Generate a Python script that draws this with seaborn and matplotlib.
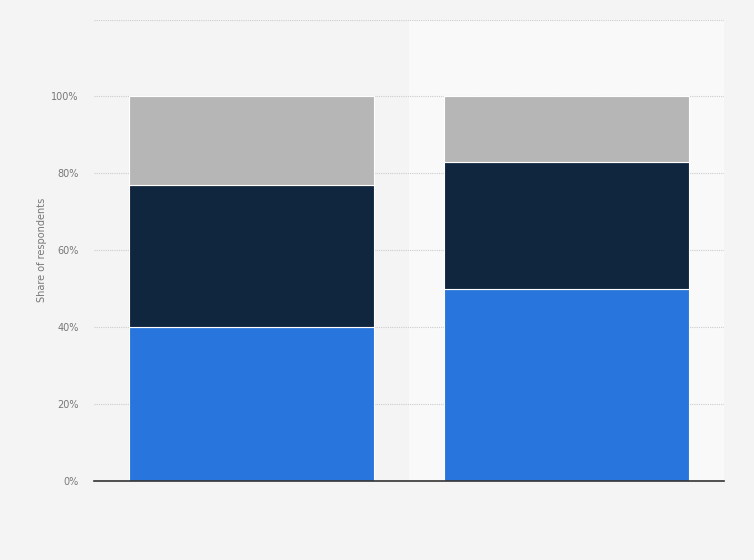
import matplotlib
matplotlib.use("Agg")
import matplotlib.pyplot as plt
import seaborn as sns
import numpy as np
import pandas as pd

categories = ["A", "B"]
blue_vals = [40, 50]
navy_vals = [37, 33]
gray_vals = [23, 17]
yticks = [0, 20, 40, 60, 80, 100, 120]
ytick_labels = ["0%", "20%", "40%", "60%", "80%", "100%", ""]

sns.set_theme(style="white")
plt.rcParams['font.family'] = ['DejaVu Sans']

fig = plt.figure(figsize=(7.54, 5.6), dpi=100, facecolor="#f4f4f4")
ax = fig.add_axes([94/754, 1-481/560, 630/754, (481-19.5)/560])
ax.set_facecolor("#f4f4f4")
ax.axvspan(0.5, 1.5, color="#f9f9f9", zorder=0)

df = pd.DataFrame({"cat": categories, "blue": blue_vals, "navy": navy_vals, "gray": gray_vals})
b1 = np.array(blue_vals)
b2 = b1 + np.array(navy_vals)

for col, bottom, color in [("blue", None, "#2876dd"), ("navy", b1, "#10263f"), ("gray", b2, "#b6b6b6")]:
    sns.barplot(data=df, x="cat", y=col, color=color, width=0.778, bottom=bottom,
                ax=ax, saturation=1, edgecolor="white", linewidth=0.8, zorder=3)

ax.set_xlim(-0.5, 1.5)
ax.set_ylim(0, 120)
ax.set_yticks(yticks)
ax.set_yticklabels(ytick_labels, fontsize=7, color="#777777")
ax.tick_params(axis="y", length=0, pad=11)
ax.set_xticks([])
ax.set_xlabel("")
ax.set_ylabel("Share of respondents", fontsize=7, color="#777777", labelpad=3)
ax.yaxis.grid(True, linestyle=(0, (1, 1)), color="#cccccc", linewidth=0.8, zorder=1)
ax.set_axisbelow(True)
for s in ["top", "right", "left"]:
    ax.spines[s].set_visible(False)
ax.spines["bottom"].set_color("#333333")
ax.spines["bottom"].set_linewidth(1.2)
ax.spines["bottom"].set_zorder(5)

fig.savefig("out.png", dpi=100, facecolor=fig.get_facecolor())
